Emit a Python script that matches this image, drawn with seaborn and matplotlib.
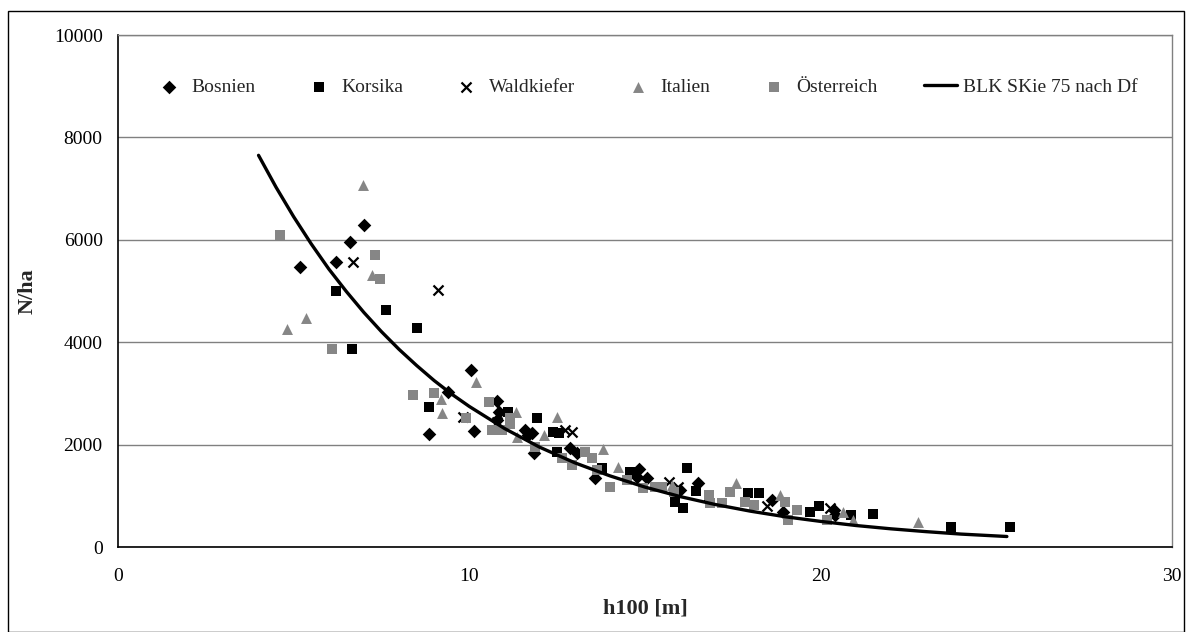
import matplotlib
matplotlib.use("Agg")
import matplotlib.pyplot as plt
import seaborn as sns
import pandas as pd
from matplotlib.patches import Rectangle

# ---------------- data ----------------
bos_x = [5.18, 6.20, 6.60, 6.99, 8.85, 9.40, 10.04, 10.14, 10.78, 10.78, 10.85, 11.59, 11.68,
         11.84, 11.78, 12.87, 13.06, 13.58, 14.84, 14.76, 15.05, 16.0, 16.52, 18.61, 18.94, 20.38, 20.41]
bos_y = [5463, 5573, 5950, 6295, 2200, 3034, 3450, 2265, 2858, 2480, 2643, 2285, 2187,
         1842, 2220, 1928, 1830, 1354, 1523, 1373, 1341, 1113, 1244, 918, 690, 723, 625]

kor_x = [6.21, 6.66, 7.63, 8.50, 8.85, 11.11, 11.92, 12.37, 12.56, 12.49, 13.77, 14.57, 14.72,
         15.86, 16.09, 16.19, 16.45, 16.83, 17.94, 18.25, 19.70, 19.94, 20.86, 21.50, 23.70, 25.39]
kor_y = [5000, 3867, 4635, 4271, 2728, 2643, 2526, 2252, 2232, 1862, 1537, 1471, 1471,
         885, 755, 1537, 1100, 1000, 1049, 1049, 690, 801, 625, 644, 384, 384]

wal_x = [6.70, 9.10, 9.83, 10.78, 12.72, 12.91, 15.67, 15.95, 18.48, 20.27]
wal_y = [5573, 5026, 2545, 2450, 2285, 2252, 1276, 1178, 807, 755]

ita_x = [4.82, 5.35, 6.96, 7.22, 9.19, 9.21, 10.18, 11.32, 11.35, 12.13, 12.50, 13.81, 14.24,
         15.76, 17.59, 18.83, 20.63, 20.93, 22.78]
ita_y = [4251, 4479, 7070, 5312, 2900, 2610, 3229, 2643, 2154, 2187, 2545, 1914, 1568,
         1211, 1244, 1016, 690, 527, 495]

oes_x = [4.61, 6.08, 7.32, 7.46, 8.39, 9.0, 9.91, 10.57, 10.64, 10.92, 11.16, 11.16, 11.87,
         12.63, 12.91, 13.29, 13.48, 13.63, 13.99, 14.48, 14.95, 15.29, 15.48, 15.82, 16.83,
         16.85, 17.18, 17.42, 17.85, 18.09, 18.99, 19.32, 19.08, 20.17]
oes_y = [6100, 3861, 5703, 5228, 2969, 3000, 2526, 2839, 2285, 2285, 2513, 2400, 1960,
         1732, 1600, 1862, 1732, 1504, 1178, 1309, 1146, 1178, 1178, 1080, 1016,
         853, 853, 1080, 885, 820, 885, 723, 527, 527]

blk_x = [4, 4.5, 5, 5.5, 6, 6.5, 7, 7.5, 8, 8.5, 9, 9.5, 10, 11, 12, 13, 14, 15, 16, 17,
         18, 19, 20, 21, 22, 23, 24, 25.3]
blk_y = [7650, 7025, 6450, 5920, 5430, 4990, 4580, 4205, 3860, 3545, 3250, 2985, 2745,
         2315, 1950, 1645, 1390, 1170, 985, 830, 700, 590, 500, 420, 355, 300, 252, 205]

series_names = ["Bosnien", "Korsika", "Waldkiefer", "Italien", "Österreich"]
line_name = "BLK SKie 75 nach Df"
x_ticks = [0, 10, 20, 30]
y_ticks = [0, 2000, 4000, 6000, 8000, 10000]
x_label = "h100 [m]"
y_label = "N/ha"

# ---------------- style ----------------
sns.set_theme(style="white")
plt.rcParams["font.family"] = ["Liberation Serif", "DejaVu Serif"]

fig = plt.figure(figsize=(11.86, 6.32), dpi=100)
ax = fig.add_axes([118 / 1186, 1 - 547 / 632, (1172 - 118) / 1186, (547 - 35) / 632])

# outer chart border
fig.patches.append(Rectangle((8 / 1186, 0.5 / 632), (1184 - 8) / 1186, (621 - 0.5) / 632,
                             transform=fig.transFigure, fill=False, edgecolor="black",
                             linewidth=1.0, zorder=0))

gray = "#868686"
data = [
    (bos_x, bos_y, "D", "black", 48),
    (kor_x, kor_y, "s", "black", 56),
    (wal_x, wal_y, "x", "black", 52),
    (ita_x, ita_y, "^", gray, 62),
    (oes_x, oes_y, "s", gray, 56),
]
for name, (xs, ys, mk, col, sz) in zip(series_names, data):
    df = pd.DataFrame({"x": xs, "y": ys})
    if mk == "x":
        sns.scatterplot(data=df, x="x", y="y", marker=mk, color=col, s=sz, linewidth=1.6,
                        ax=ax, label=name, zorder=3)
    else:
        sns.scatterplot(data=df, x="x", y="y", marker=mk, color=col, s=sz, linewidth=0,
                        edgecolor=col, ax=ax, label=name, zorder=3)

dfl = pd.DataFrame({"x": blk_x, "y": blk_y})
sns.lineplot(data=dfl, x="x", y="y", color="black", linewidth=2.4, ax=ax, label=line_name,
             zorder=4)

ax.set_xlim(0, 30)
ax.set_ylim(0, 10000)
ax.set_xticks(x_ticks)
ax.set_yticks(y_ticks)
ax.yaxis.grid(True, color="#808080", linewidth=1.0)
ax.xaxis.grid(False)
ax.set_axisbelow(True)

for s in ["top", "right"]:
    ax.spines[s].set_color("#808080")
    ax.spines[s].set_linewidth(1.0)
for s in ["left", "bottom"]:
    ax.spines[s].set_color("black")
    ax.spines[s].set_linewidth(1.2)

ax.tick_params(axis="both", which="major", direction="out", length=5, width=1,
               color="black", labelsize=14, labelcolor="black", pad=6)
ax.tick_params(axis="x", pad=10)
ax.set_xlabel(x_label, fontsize=16, fontweight="bold", labelpad=10)
ax.set_ylabel(y_label, fontsize=16, fontweight="bold", labelpad=12)

leg = ax.legend(loc="center", bbox_to_anchor=(0.5, 0.898), ncol=6, frameon=False,
                fontsize=14, handlelength=1.7, columnspacing=2.4, handletextpad=0.3,
                markerscale=1.0)

fig.savefig("out.png", dpi=100)
